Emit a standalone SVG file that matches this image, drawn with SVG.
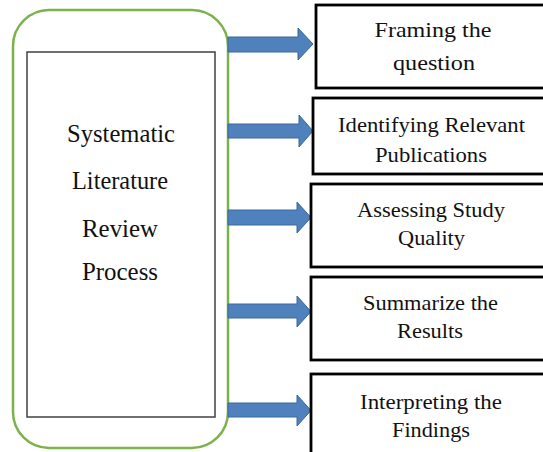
<svg xmlns="http://www.w3.org/2000/svg" width="543" height="452" viewBox="0 0 543 452">
  <style>
    .frame { fill: #ffffff; stroke: #7cb24c; stroke-width: 2.5; }
    .inner { fill: #ffffff; stroke: #404040; stroke-width: 1.5; }
    .step { fill: #ffffff; stroke: #000000; stroke-width: 2.8; }
    .arrow { fill: #4f81bd; stroke: #3a6899; stroke-width: 1; }
    .txt { font-family: 'Liberation Serif', 'DejaVu Serif', serif; fill: #111111; text-anchor: middle; }
    .main { font-size: 26px; }
    .label { font-size: 21px; }
  </style>

  <!-- central process block -->
  <g id="process">
    <rect class="frame" x="13" y="10" width="215" height="438" rx="36" ry="36"/>
    <rect class="inner" x="27" y="52" width="188" height="365"/>
    <g class="txt main" font-family="Liberation Serif, serif">
      <text x="121" y="142" textLength="108" lengthAdjust="spacingAndGlyphs">Systematic</text>
      <text x="120" y="189" textLength="96" lengthAdjust="spacingAndGlyphs">Literature</text>
      <text x="120" y="237" textLength="76" lengthAdjust="spacingAndGlyphs">Review</text>
      <text x="120" y="280" textLength="76" lengthAdjust="spacingAndGlyphs">Process</text>
    </g>
  </g>

  <!-- block arrows to each step -->
  <g id="connectors">
    <path class="arrow" d="M228,37 H298 V28 L313,44 L298,60 V52 H228 Z"/>
    <path class="arrow" d="M228,124 H299 V115 L313,131 L299,147 V138 H228 Z"/>
    <path class="arrow" d="M228,210 H297 V202 L311,217.5 L297,233 V225 H228 Z"/>
    <path class="arrow" d="M228,304 H297 V296 L311,311.5 L297,327 V318 H228 Z"/>
    <path class="arrow" d="M228,403 H297 V395 L311,410.5 L297,426 V417 H228 Z"/>
  </g>

  <g id="step-framing">
    <rect class="step" x="316" y="5" width="240" height="83"/>
    <g class="txt label" font-family="Liberation Serif, serif">
      <text x="433" y="37" textLength="117" lengthAdjust="spacingAndGlyphs">Framing the</text>
      <text x="434" y="70" textLength="82" lengthAdjust="spacingAndGlyphs">question</text>
    </g>
  </g>

  <g id="step-identifying">
    <rect class="step" x="313" y="98" width="240" height="76"/>
    <g class="txt label" font-family="Liberation Serif, serif">
      <text x="431.5" y="132" textLength="187" lengthAdjust="spacingAndGlyphs">Identifying Relevant</text>
      <text x="431" y="162" textLength="112" lengthAdjust="spacingAndGlyphs">Publications</text>
    </g>
  </g>

  <g id="step-assessing">
    <rect class="step" x="311" y="184" width="240" height="83"/>
    <g class="txt label" font-family="Liberation Serif, serif">
      <text x="431" y="217" textLength="148" lengthAdjust="spacingAndGlyphs">Assessing Study</text>
      <text x="431.5" y="245" textLength="67" lengthAdjust="spacingAndGlyphs">Quality</text>
    </g>
  </g>

  <g id="step-summarize">
    <rect class="step" x="311" y="277" width="240" height="83"/>
    <g class="txt label" font-family="Liberation Serif, serif">
      <text x="430.5" y="310" textLength="135" lengthAdjust="spacingAndGlyphs">Summarize the</text>
      <text x="430" y="338" textLength="66" lengthAdjust="spacingAndGlyphs">Results</text>
    </g>
  </g>

  <g id="step-interpreting">
    <rect class="step" x="311" y="374" width="240" height="90"/>
    <g class="txt label" font-family="Liberation Serif, serif">
      <text x="431" y="409" textLength="142" lengthAdjust="spacingAndGlyphs">Interpreting the</text>
      <text x="431" y="437" textLength="78" lengthAdjust="spacingAndGlyphs">Findings</text>
    </g>
  </g>
</svg>
